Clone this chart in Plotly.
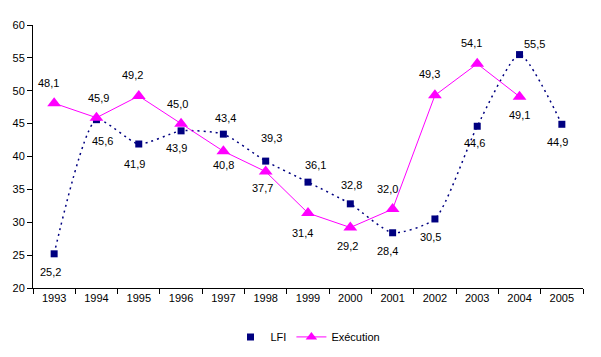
import plotly.graph_objects as go

years = ["1993", "1994", "1995", "1996", "1997", "1998", "1999",
         "2000", "2001", "2002", "2003", "2004", "2005"]
lfi = [25.2, 45.6, 41.9, 43.9, 43.4, 39.3, 36.1, 32.8, 28.4, 30.5, 44.6, 55.5, 44.9]
execution = [48.1, 45.9, 49.2, 45.0, 40.8, 37.7, 31.4, 29.2, 32.0, 49.3, 54.1, 49.1]

# label offsets in pixels (dx, dy; dy positive = downward)
lfi_off = [(-4, 18), (6, 21), (-4, 20), (-5, 17), (2, -16), (6, -23), (7, -17),
           (1, -19), (-5, 18), (-4, 18), (-3, 17), (15, -11), (-4, 18)]
exe_off = [(-6, -20), (2, -20), (-6, -21), (-4, -20), (0, 14), (-3, 16), (-6, 20),
           (-3, 18), (-5, -20), (-5, -21), (-6, -21), (0, 18)]

NAVY = "#000080"
MAG = "#FF00FF"
FONT = "Liberation Sans, Arial, sans-serif"

def fmt(v):
    return f"{v:.1f}".replace(".", ",")

fig = go.Figure()
fig.add_trace(go.Scatter(
    x=years, y=lfi, mode="lines+markers", name="LFI", showlegend=False,
    line=dict(color=NAVY, width=1.5, dash="2px,4px", shape="spline", smoothing=0.6),
    marker=dict(symbol="square", size=7, color=NAVY),
))
fig.add_trace(go.Scatter(
    x=years[:len(execution)], y=execution, mode="lines+markers", name="Exécution",
    showlegend=False,
    line=dict(color=MAG, width=1),
    marker=dict(symbol="triangle-up", size=12, color=MAG),
))
# legend entries
fig.add_trace(go.Scatter(
    x=[None], y=[None], mode="markers", name="LFI",
    marker=dict(symbol="square", size=7, color=NAVY),
))
fig.add_trace(go.Scatter(
    x=[None], y=[None], mode="lines+markers", name="Exécution",
    line=dict(color=MAG, width=1),
    marker=dict(symbol="triangle-up", size=10, color=MAG),
))

for series, offs in ((lfi, lfi_off), (execution, exe_off)):
    for i, (v, (dx, dy)) in enumerate(zip(series, offs)):
        fig.add_annotation(x=i, y=v, xref="x", yref="y", text=fmt(v), showarrow=False,
                           xshift=dx, yshift=-dy,
                           font=dict(family=FONT, size=11, color="black"))

fig.update_layout(
    width=601, height=357,
    margin=dict(l=33, r=18, t=25, b=69, autoexpand=False),
    paper_bgcolor="white", plot_bgcolor="white",
    font=dict(family=FONT, size=11, color="black"),
    legend=dict(orientation="h", x=0.5, xanchor="center", y=-0.186, yanchor="middle",
                font=dict(family=FONT, size=11), itemwidth=30),
)
fig.update_xaxes(
    type="category", categoryorder="array", categoryarray=years,
    range=[-0.5, len(years) - 0.5],
    showline=True, linecolor="black", linewidth=1,
    ticks="outside", tickson="boundaries", ticklen=5, tickcolor="black",
    showgrid=False, zeroline=False, automargin=False,
)
fig.update_yaxes(
    range=[20, 60], dtick=5, tick0=20,
    showline=True, linecolor="black", linewidth=1,
    ticks="outside", ticklen=5, tickcolor="black",
    showgrid=False, zeroline=False, automargin=False,
)

fig.write_html("out.html", config={"displayModeBar": False},
               post_script="document.body.style.margin='0';")
